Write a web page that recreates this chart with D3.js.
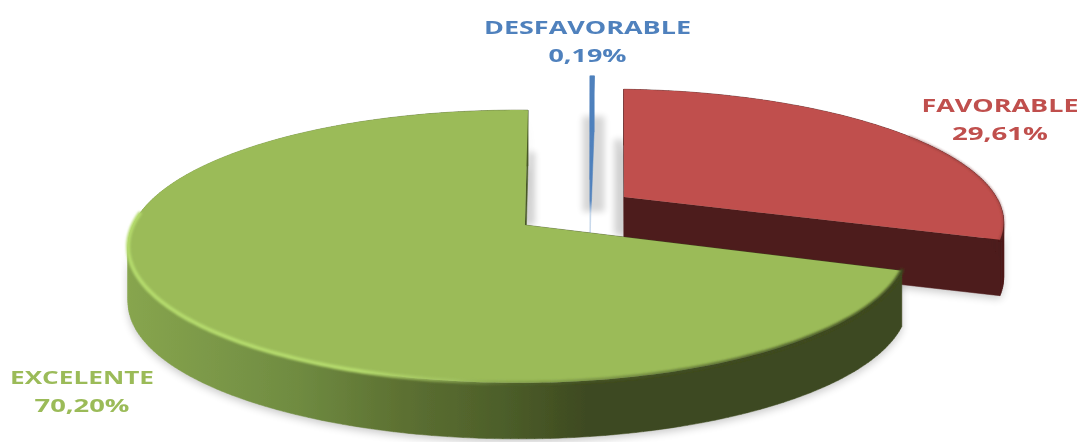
<!DOCTYPE html>
<html lang="es">

<head>
  <meta charset="utf-8">
  <script src="https://d3js.org/d3.v7.min.js"></script>
  <style>
    html, body { margin: 0; padding: 0; background: #fff; }
    svg { display: block; }
    text { font-family: "Open Sans", sans-serif; font-weight: 700; font-size: 18px; text-anchor: middle; }
  </style>
</head>

<body>
  <svg id="chart" width="1081" height="442"></svg>

  <script>
    const categories = ['EXCELENTE', 'DESFAVORABLE', 'FAVORABLE'];
    const values = [70.20, 0.19, 29.61];

    const width = 1081, height = 442;
    const svg = d3.select('#chart');
    const defs = svg.append('defs');

    // look of each slice, and how far it was pulled out of the pie (plane units)
    const looks = {
      EXCELENTE: { top: '#9bbb59', wall: 'url(#greenWall)', text: '#9bbb59', offset: [0, 0], apex: [0.018, 0], edge: 0 },
      DESFAVORABLE: { top: '#4f81bd', wall: 'url(#blueWall)', text: '#4f81bd', offset: [0.198, -0.36], apex: [0, 0], edge: 1.2 },
      FAVORABLE: { top: '#c0504d', wall: '#4e1d1d', text: '#c0504d', offset: [0.285, -0.217], apex: [0, 0], edge: 0 }
    };
    const labelSpots = {
      EXCELENTE: { x: 82, y: 384, w1: 144, w2: 95 },
      DESFAVORABLE: { x: 587.5, y: 34, w1: 207, w2: 78 },
      FAVORABLE: { x: 1000, y: 112, w1: 157, w2: 96 }
    };

    const rad = Math.PI / 180;
    const pie = d3.pie().sort(null).startAngle(-251 * rad).endAngle(109 * rad);
    const slices = pie(values);

    // perspective view of the pie plane
    const cx = 518, cy = 225, rx = 385, ry = 133, k = 0.1575, depth = 56;
    function project(u, v) {
      const s = 1 / (1 - k * v);
      return [cx + rx * u * s, cy + ry * v * s];
    }
    function onSlice(name, angle, r) {
      const p = d3.pointRadial(angle, r);
      const o = looks[name].offset;
      return project(o[0] + p[0], o[1] + p[1]);
    }
    function outerArc(name, a0, a1) {
      const n = Math.max(2, Math.ceil(Math.abs(a1 - a0) / (1 * rad)));
      return d3.range(n + 1).map(i => onSlice(name, a0 + (a1 - a0) * i / n, 1));
    }
    function face(name, d) {
      const o = looks[name];
      const a = o.apex;
      return [project(o.offset[0] + a[0], o.offset[1] + a[1])].concat(outerArc(name, d.startAngle, d.endAngle));
    }

    const line = d3.line();
    const closed = pts => line(pts) + 'Z';

    // walls: every edge of the face swept down, all quads wound the same way
    function wallPath(pts) {
      return pts.map((p, i) => {
        const q = pts[(i + 1) % pts.length];
        let quad = [p, q, [q[0], q[1] + depth], [p[0], p[1] + depth]];
        if (d3.polygonArea(quad) < 0) quad = quad.reverse();
        return closed(quad);
      }).join('');
    }

    function blur(id, sd) {
      defs.append('filter').attr('id', id)
        .attr('filterUnits', 'userSpaceOnUse')
        .attr('x', 0).attr('y', 0).attr('width', width).attr('height', height)
        .append('feGaussianBlur').attr('stdDeviation', sd);
    }
    blur('soft', 0.6);
    blur('textSoft', 0.35);
    blur('shadowBlur', 4);
    blur('edgeBlur', 3);
    blur('rimBlur', 1.2);

    function gradient(id, x1, x2, stops) {
      const g = defs.append('linearGradient').attr('id', id)
        .attr('gradientUnits', 'userSpaceOnUse')
        .attr('x1', x1).attr('x2', x2).attr('y1', 0).attr('y2', 0);
      stops.forEach(s => g.append('stop').attr('offset', s[0]).attr('stop-color', s[1]).attr('stop-opacity', s[2] === undefined ? 1 : s[2]));
    }
    gradient('greenWall', 128, 903, [
      [0, '#87a54e'], [0.22, '#6f8b41'], [0.35, '#5d7132'], [0.48, '#4d5f2a'], [0.59, '#3e4a20'], [1, '#3e4a20']
    ]);
    gradient('greenRim', 128, 903, [
      [0, '#b4da6c'], [0.3, '#b4da6c'], [0.42, '#a9cc66', 0.5], [0.5, '#5d7132', 0.3], [0.8, '#3e4a20', 0.7], [1, '#3e4a20', 0.9]
    ]);
    const blueWall = defs.append('linearGradient').attr('id', 'blueWall')
      .attr('x1', 0).attr('x2', 0).attr('y1', 0).attr('y2', 1);
    [[0, '#4f81bd'], [0.78, '#4f81bd'], [0.86, '#c3d5e9'], [1, '#c3d5e9']].forEach(s =>
      blueWall.append('stop').attr('offset', s[0]).attr('stop-color', s[1]));

    const chart = svg.append('g').attr('filter', 'url(#soft)');
    const byName = {};
    slices.forEach((d, i) => { byName[categories[i]] = d; });

    // soft shadows first, so they stay under every slice
    ['FAVORABLE', 'EXCELENTE'].forEach(name => {
      const pts = face(name, byName[name]);
      chart.append('path')
        .attr('d', wallPath(pts) + closed(pts))
        .attr('transform', 'translate(0,3)')
        .attr('fill', '#000')
        .attr('opacity', 0.22)
        .attr('filter', 'url(#shadowBlur)');
    });

    // shadows in the gap between the slices
    const gapShadows = [
      { name: 'DESFAVORABLE', angle: byName.DESFAVORABLE.endAngle, r: 0.58, down: 32, w: 22, dx: 1 },
      { name: 'FAVORABLE', angle: byName.FAVORABLE.startAngle, r: 0.5, down: 38, w: 10, dx: -5 },
      { name: 'EXCELENTE', angle: byName.EXCELENTE.endAngle, r: 0.6, down: 0, w: 8, dx: 7 }
    ];
    gapShadows.forEach(s => {
      const a = onSlice(s.name, s.angle, s.r);
      const b = onSlice(s.name, s.angle, 0);
      chart.append('line')
        .attr('x1', a[0] + s.dx).attr('y1', a[1])
        .attr('x2', a[0] + s.dx).attr('y2', b[1] + s.down)
        .attr('stroke', '#000').attr('stroke-width', s.w)
        .attr('opacity', 0.16)
        .attr('filter', 'url(#edgeBlur)');
    });

    // back to front
    ['DESFAVORABLE', 'FAVORABLE', 'EXCELENTE'].forEach(name => {
      const d = byName[name];
      const look = looks[name];
      const pts = face(name, d);
      chart.append('path')
        .attr('class', 'wall')
        .attr('d', wallPath(pts))
        .attr('fill', look.wall)
        .attr('stroke', look.wall)
        .attr('stroke-width', 0.5);
      chart.append('path')
        .attr('class', 'slice')
        .attr('d', closed(pts))
        .attr('fill', look.top)
        .attr('stroke', look.top)
        .attr('stroke-width', look.edge);
    });

    // bevel along the rim of the slices
    chart.append('path')
      .attr('d', line(outerArc('FAVORABLE', 58 * rad, byName.FAVORABLE.endAngle)))
      .attr('fill', 'none').attr('stroke', '#7a3230').attr('stroke-width', 2).attr('opacity', 0.5)
      .attr('filter', 'url(#rimBlur)');
    chart.append('path')
      .attr('d', line(outerArc('EXCELENTE', byName.EXCELENTE.startAngle, -85 * rad)))
      .attr('fill', 'none').attr('stroke', 'url(#greenRim)').attr('stroke-width', 4)
      .attr('stroke-linecap', 'round')
      .attr('filter', 'url(#rimBlur)');

    // labels
    const pct = d3.formatLocale({ decimal: ',', thousands: '.', grouping: [3], currency: ['', ''] }).format('.2f');
    const labels = svg.append('g').attr('filter', 'url(#textSoft)');
    categories.forEach((name, i) => {
      const spot = labelSpots[name];
      labels.append('text')
        .attr('x', spot.x).attr('y', spot.y)
        .attr('fill', looks[name].text)
        .attr('textLength', spot.w1).attr('lengthAdjust', 'spacingAndGlyphs')
        .text(name);
      labels.append('text')
        .attr('x', spot.x).attr('y', spot.y + 28)
        .attr('fill', looks[name].text)
        .attr('textLength', spot.w2).attr('lengthAdjust', 'spacingAndGlyphs')
        .text(pct(values[i]) + '%');
    });
  </script>
</body>

</html>
